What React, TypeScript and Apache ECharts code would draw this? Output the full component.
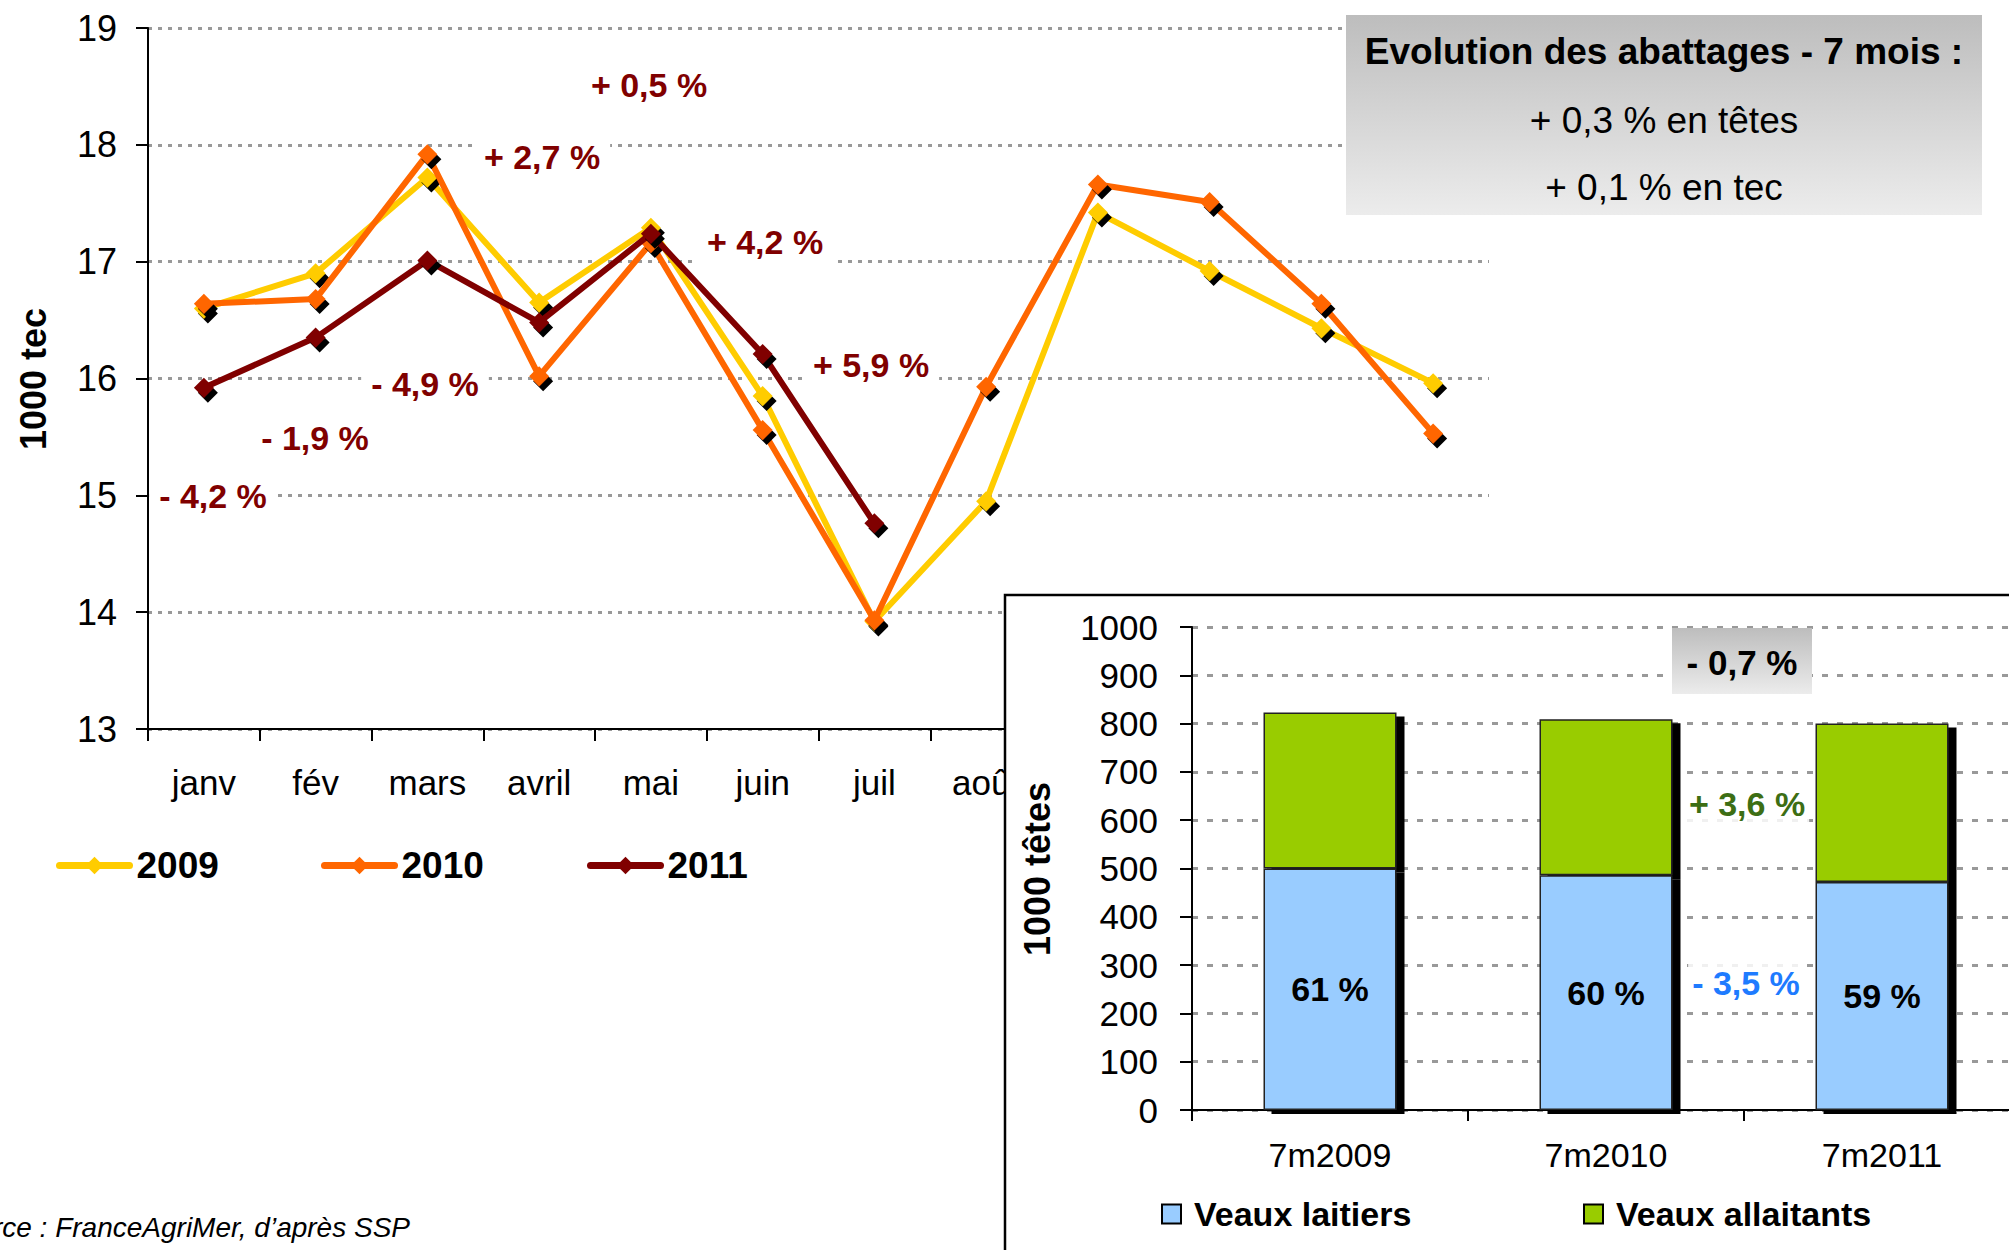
import React, { useEffect, useRef } from 'react';
import * as echarts from 'echarts';

// ---------- Data ----------
const months = ['janv', 'fév', 'mars', 'avril', 'mai', 'juin', 'juil', 'août', 'sept', 'oct', 'nov', 'déc'];
const values2009 = [16.6, 16.9, 17.72, 16.65, 17.29, 15.85, 13.92, 14.95, 17.42, 16.92, 16.43, 15.96];
const values2010 = [16.64, 16.68, 17.92, 16.02, 17.16, 15.56, 13.93, 15.93, 17.66, 17.51, 16.64, 15.53];
const values2011 = [15.92, 16.35, 17.01, 16.48, 17.24, 16.21, 14.76];
const lineAxisMin = 13;
const lineAxisMax = 19;
const lineAxisStep = 1;
const changeLabels2011 = ['- 4,2 %', '- 1,9 %', '- 4,9 %', '+ 2,7 %', '+ 0,5 %', '+ 4,2 %', '+ 5,9 %'];

const periods = ['7m2009', '7m2010', '7m2011'];
const veauxLaitiers = [500, 486, 472];
const veauxAllaitants = [323, 323, 328];
const laitiersShare = ['61 %', '60 %', '59 %'];
const barAxisMin = 0;
const barAxisMax = 1000;
const barAxisStep = 100;

const summaryLines = ['Evolution des abattages - 7 mois :', '+ 0,3 % en têtes', '+ 0,1 % en tec'];
const totalChange = '- 0,7 %';
const allaitantsChange = '+ 3,6 %';
const laitiersChange = '- 3,5 %';
const sourceText = 'Source : FranceAgriMer, d’après SSP';

// ---------- Styling ----------
const FONT = "'Liberation Sans', Arial, sans-serif";
const C2009 = '#FFCC00';
const C2010 = '#FF6600';
const C2011 = '#800000';
const BLUE = '#99CCFF';
const GREEN = '#99CC00';
const CANVAS_W = 2040; // wider than the viewport: the inset's axis runs past the right edge
const CANVAS_H = 1250;

// annotation positions (pixels)
const changeLabelPos = [
  [213, 496], [315, 438], [425, 384], [542, 157], [649, 85], [765, 242], [871, 365],
];

const noShadow = { shadowBlur: 0, shadowOffsetX: 0, shadowOffsetY: 0, shadowColor: 'rgba(0,0,0,0)' };

function txt(x: number, y: number, text: string, o: any = {}, extra: any = {}) {
  const align = o.align || 'center';
  const va = o.verticalAlign || 'middle';
  return {
    type: 'text',
    x,
    y,
    z: 15,
    ...extra,
    style: {
      text,
      fontFamily: FONT,
      fontSize: 34,
      fontWeight: 'normal',
      fill: '#000',
      ...o,
      align,
      verticalAlign: va,
      textAlign: align,
      textVerticalAlign: va,
    },
  };
}

const lineSeries = (name: string, data: number[], color: string, z: number) => ({
  name,
  type: 'line',
  xAxisIndex: 0,
  yAxisIndex: 0,
  data,
  symbol: 'diamond',
  symbolSize: 20,
  z,
  lineStyle: { color, width: 6 },
  itemStyle: { color, shadowColor: '#000', shadowOffsetX: 4, shadowOffsetY: 5, shadowBlur: 0 },
  emphasis: { disabled: true },
});

const lineLegend = (name: string, left: number) => ({
  data: [name],
  left,
  top: 842,
  z: 20,
  itemWidth: 70,
  itemHeight: 22,
  itemGap: 0,
  selectedMode: false,
  itemStyle: { ...noShadow },
  lineStyle: { width: 7, cap: 'round' },
  textStyle: { fontSize: 37, fontWeight: 'bold', color: '#000', fontFamily: FONT, padding: [0, 0, 0, 2] },
});

const barLegend = (name: string, left: number) => ({
  data: [name],
  left,
  top: 1192,
  z: 20,
  icon: 'rect',
  itemWidth: 19,
  itemHeight: 19,
  itemGap: 0,
  selectedMode: false,
  itemStyle: { ...noShadow, borderColor: '#000', borderWidth: 2 },
  textStyle: { fontSize: 34, fontWeight: 'bold', color: '#000', fontFamily: FONT, padding: [0, 0, 0, 8] },
});

export default function App() {
  const ref = useRef<HTMLDivElement>(null);

  useEffect(() => {
    if (!ref.current) return;
    const chart = echarts.init(ref.current, undefined, { renderer: 'svg' });

    const grayGradient = new echarts.graphic.LinearGradient(0, 0, 0, 1, [
      { offset: 0, color: '#BDBDBD' },
      { offset: 1, color: '#ECECEC' },
    ]);
    const grayGradient2 = new echarts.graphic.LinearGradient(0, 0, 0, 1, [
      { offset: 0, color: '#BDBDBD' },
      { offset: 1, color: '#ECECEC' },
    ]);

    const elements: any[] = [];
    // line chart change annotations
    changeLabels2011.forEach((t, i) => {
      elements.push(
        txt(changeLabelPos[i][0], changeLabelPos[i][1], t, {
          fontWeight: 'bold',
          fill: C2011,
          backgroundColor: '#fff',
          padding: [7, 10],
        }, { z: 5 })
      );
    });
    // summary box
    elements.push({
      type: 'rect',
      z: 10,
      shape: { x: 1346, y: 15, width: 636, height: 200 },
      style: { fill: grayGradient },
    });
    elements.push(txt(1664, 51, summaryLines[0], { fontSize: 37, fontWeight: 'bold' }, { z: 11 }));
    elements.push(txt(1664, 120, summaryLines[1], { fontSize: 37 }, { z: 11 }));
    elements.push(txt(1664, 187, summaryLines[2], { fontSize: 37 }, { z: 11 }));
    // axis title
    elements.push(txt(33, 379, '1000 tec', { fontSize: 36, fontWeight: 'bold' }, { rotation: Math.PI / 2, z: 5 }));
    // source
    elements.push(txt(410, 1227, sourceText, { fontSize: 28, fontStyle: 'italic', align: 'right' }, { z: 5 }));
    // inset
    elements.push({
      type: 'rect',
      z: 10,
      shape: { x: 1005, y: 595, width: 1100, height: 700 },
      style: { fill: '#fff', stroke: '#000', lineWidth: 2.5 },
    });
    elements.push(txt(1037, 869, '1000 têtes', { fontSize: 36, fontWeight: 'bold' }, { rotation: Math.PI / 2, z: 15 }));
    elements.push({
      type: 'rect',
      z: 14,
      shape: { x: 1672, y: 628, width: 140, height: 66 },
      style: { fill: grayGradient2 },
    });
    elements.push(txt(1742, 662, totalChange, { fontSize: 35, fontWeight: 'bold' }, { z: 15 }));
    elements.push(txt(1747, 804, allaitantsChange, {
      fontSize: 34, fontWeight: 'bold', fill: '#3D6E14', backgroundColor: 'rgba(255,255,255,0.85)', padding: [6, 4],
    }, { z: 15 }));
    elements.push(txt(1746, 983, laitiersChange, {
      fontSize: 34, fontWeight: 'bold', fill: '#1E7BFF', backgroundColor: 'rgba(255,255,255,0.85)', padding: [6, 4],
    }, { z: 15 }));

    const option: any = {
      animation: false,
      backgroundColor: '#fff',
      textStyle: { fontFamily: FONT },
      grid: [
        { left: 148, top: 28, width: 1341, height: 701 },
        { left: 1192, top: 627, width: 828, height: 483 },
      ],
      xAxis: [
        {
          type: 'category',
          gridIndex: 0,
          data: months,
          boundaryGap: true,
          axisLine: { lineStyle: { color: '#000', width: 2 } },
          axisTick: { show: true, length: 12, alignWithLabel: false, interval: 0, lineStyle: { color: '#000', width: 2 } },
          // months after "août" sit under the inset panel
          axisLabel: {
            color: '#000', fontSize: 35, margin: 36, fontFamily: FONT,
            interval: (i: number) => i <= 7,
          },
          splitLine: { show: false },
        },
        {
          type: 'category',
          gridIndex: 1,
          data: periods,
          boundaryGap: true,
          z: 11,
          axisLine: { lineStyle: { color: '#000', width: 2 } },
          axisTick: { show: true, length: 11, alignWithLabel: false, lineStyle: { color: '#000', width: 2 } },
          axisLabel: { color: '#000', fontSize: 34, margin: 28, interval: 0, fontFamily: FONT },
          splitLine: { show: false },
        },
      ],
      yAxis: [
        {
          type: 'value',
          gridIndex: 0,
          min: lineAxisMin,
          max: lineAxisMax,
          interval: lineAxisStep,
          axisLine: { show: true, lineStyle: { color: '#000', width: 2 } },
          axisTick: { show: true, length: 12, lineStyle: { color: '#000', width: 2 } },
          axisLabel: { color: '#000', fontSize: 36, margin: 31, fontFamily: FONT },
          splitLine: { show: true, lineStyle: { color: '#999', width: 3, type: [4, 6] } },
        },
        {
          type: 'value',
          gridIndex: 1,
          min: barAxisMin,
          max: barAxisMax,
          interval: barAxisStep,
          z: 11,
          axisLine: { show: true, lineStyle: { color: '#000', width: 2 } },
          axisTick: { show: true, length: 12, lineStyle: { color: '#000', width: 2 } },
          axisLabel: { color: '#000', fontSize: 35, margin: 34, fontFamily: FONT, formatter: (v: number) => String(v) },
          splitLine: { show: true, lineStyle: { color: '#999', width: 3, type: [6, 9] } },
        },
      ],
      legend: [
        lineLegend('2009', 51),
        lineLegend('2010', 316),
        lineLegend('2011', 582),
        barLegend('Veaux laitiers', 1156),
        barLegend('Veaux allaitants', 1578),
      ],
      series: [
        lineSeries('2009', values2009, C2009, 2),
        lineSeries('2010', values2010, C2010, 3),
        lineSeries('2011', values2011, C2011, 4),
        {
          name: 'Veaux laitiers',
          type: 'bar',
          stack: 'total',
          xAxisIndex: 1,
          yAxisIndex: 1,
          data: veauxLaitiers,
          barWidth: 133,
          z: 13,
          itemStyle: {
            color: BLUE,
            borderColor: '#222',
            borderWidth: 1.5,
            shadowColor: '#000',
            shadowOffsetX: 8,
            shadowOffsetY: 4,
            shadowBlur: 0,
          },
          label: {
            show: true,
            position: 'inside',
            formatter: (p: any) => laitiersShare[p.dataIndex],
            fontSize: 34,
            fontWeight: 'bold',
            color: '#000',
            fontFamily: FONT,
          },
          emphasis: { disabled: true },
        },
        {
          name: 'Veaux allaitants',
          type: 'bar',
          stack: 'total',
          xAxisIndex: 1,
          yAxisIndex: 1,
          data: veauxAllaitants,
          barWidth: 133,
          z: 12,
          itemStyle: {
            color: GREEN,
            borderColor: '#222',
            borderWidth: 1.5,
            shadowColor: '#000',
            shadowOffsetX: 8,
            shadowOffsetY: 4,
            shadowBlur: 0,
          },
          emphasis: { disabled: true },
        },
      ],
      graphic: { elements },
    };

    chart.setOption(option);
    return () => chart.dispose();
  }, []);

  return (
    <div
      ref={ref}
      style={{ position: 'fixed', left: 0, top: 0, width: CANVAS_W, height: CANVAS_H, background: '#fff' }}
    />
  );
}
